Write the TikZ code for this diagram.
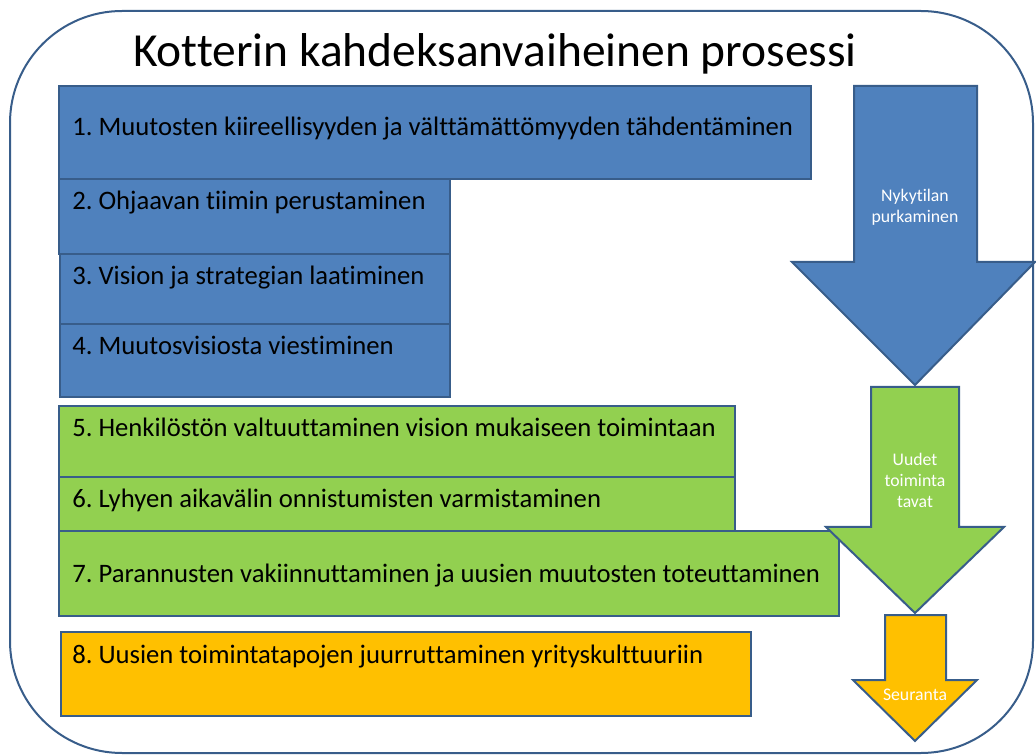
\documentclass[tikz,border=0pt]{standalone}
\usepackage{fontspec}
\setmainfont{Carlito}[Ligatures=NoCommon]
\frenchspacing
\definecolor{stepblue}{HTML}{4F81BD}
\definecolor{edgeblue}{HTML}{385D8A}
\definecolor{stepgreen}{HTML}{92D050}
\definecolor{steporange}{HTML}{FFC000}

\begin{document}
\begin{tikzpicture}[x=0.75pt, y=-0.75pt,
    every node/.style={inner sep=0pt},
    field/.style={draw=edgeblue, line width=1.5pt},
    phase/.style={draw=edgeblue, line width=1.5pt, line join=miter},
    steptext/.style={anchor=base west, font=\fontsize{20}{24}\selectfont},
    phasetext/.style={text=white, align=center, font=\fontsize{13.3}{15.8}\selectfont}]
\useasboundingbox (0,0) rectangle (1036,755);
\draw[draw=edgeblue, line width=1.5pt, rounded corners=84pt] (10,11) rectangle (1033,753);
\node[anchor=base, font=\fontsize{35.6}{40}\selectfont] (title) at (495,67) {Kotterin kahdeksanvaiheinen prosessi};

% vaiheet 1-4
\draw[field, fill=stepblue] (59,86) rectangle (811,179);
\draw[field, fill=stepblue] (59,179) rectangle (450,254);
\draw[field, fill=stepblue] (60,254) rectangle (450,324);
\draw[field, fill=stepblue] (60,324) rectangle (450,397);
\node[steptext] (s1) at (72,136) {1. Muutosten kiireellisyyden ja välttämättömyyden tähdentäminen};
\node[steptext] (s2) at (72,210) {2. Ohjaavan tiimin perustaminen};
\node[steptext] (s3) at (72,285) {3. Vision ja strategian laatiminen};
\node[steptext] (s4) at (72,355) {4. Muutosvisiosta viestiminen};

% vaiheet 5-7
\draw[field, fill=stepgreen] (59,406) rectangle (735,477);
\draw[field, fill=stepgreen] (59,477) rectangle (735,531);
\draw[field, fill=stepgreen] (59,531) rectangle (839,616);
\node[steptext] (s5) at (72,437) {5. Henkilöstön valtuuttaminen vision mukaiseen toimintaan};
\node[steptext] (s6) at (72,508) {6. Lyhyen aikavälin onnistumisten varmistaminen};
\node[steptext] (s7) at (72,583) {7. Parannusten vakiinnuttaminen ja uusien muutosten toteuttaminen};

% vaihe 8
\draw[field, fill=steporange] (61,632) rectangle (751,716);
\node[steptext] (s8) at (72,663) {8. Uusien toimintatapojen juurruttaminen yrityskulttuuriin};

% nuolet
\draw[phase, fill=stepblue] (854,86) -- (977,86) -- (977,262) -- (1035,262) -- (915,385)
    -- (792,262) -- (854,262) -- cycle;
\draw[phase, fill=stepgreen] (871,387) -- (959,387) -- (959,527) -- (1004,527) -- (915,613)
    -- (826,527) -- (871,527) -- cycle;
\draw[phase, fill=steporange] (885,615) -- (946,615) -- (946,680) -- (977,680) -- (915,741)
    -- (853,680) -- (885,680) -- cycle;
\node[phasetext] (nyky) at (915,207) {Nykytilan\\purkaminen};
\node[phasetext] (uudet) at (915,480) {Uudet\\toiminta\\tavat};
\node[phasetext, anchor=base] (seur) at (915,700) {Seuranta};
\end{tikzpicture}
\end{document}
